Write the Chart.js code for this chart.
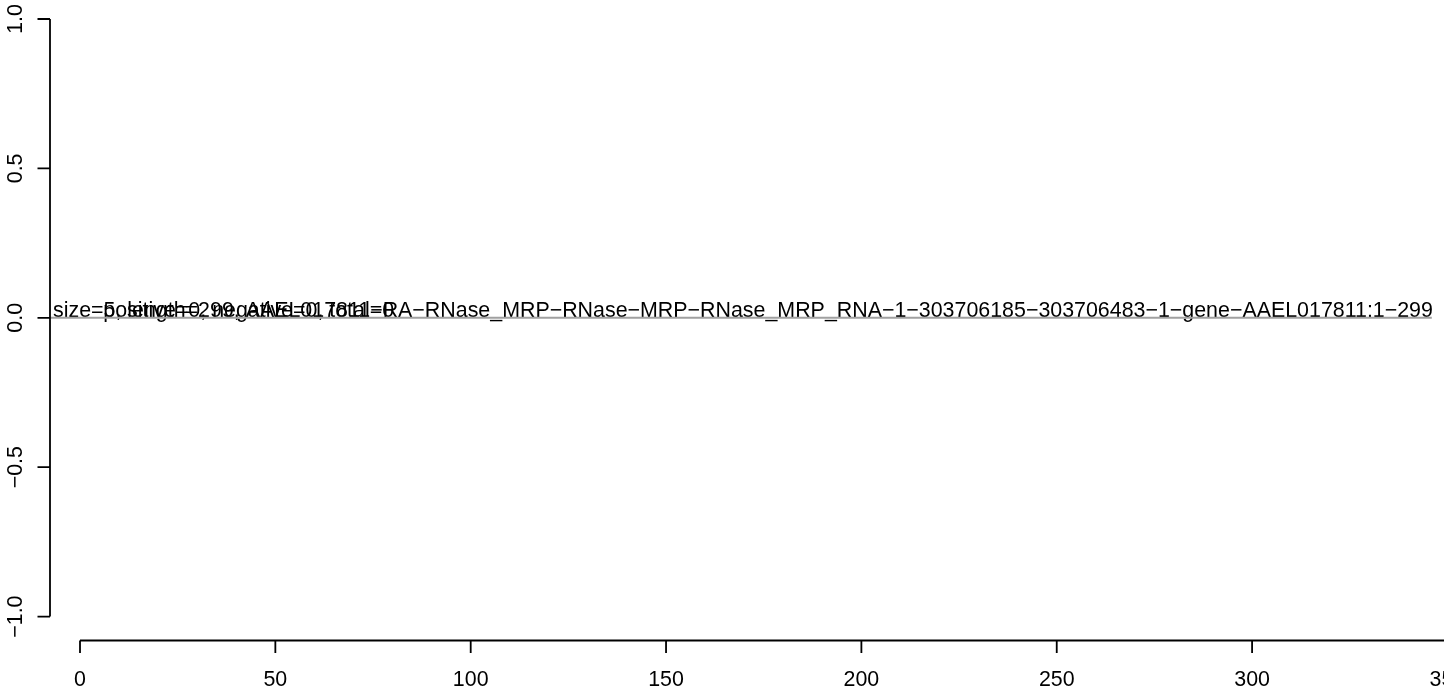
<!DOCTYPE html>
<html>
<head>
<meta charset="utf-8">
<script src="https://cdn.jsdelivr.net/npm/chart.js@4"></script>
<style>
  html, body { margin: 0; padding: 0; background: #fff; overflow: hidden; }
  #wrap { width: 1444px; height: 691px; overflow: hidden; }
</style>
</head>
<body>
<div id="wrap"><canvas id="chart" width="1500" height="691"></canvas></div>
<script>
// ticks
const xTicks = [0, 50, 100, 150, 200, 250, 300, 350];
const xTickLabels = ["0", "50", "100", "150", "200", "250", "300", "350"];
const yTicks = [-1, -0.5, 0, 0.5, 1];
const yTickLabels = ["\u22121.0", "\u22120.5", "0.0", "0.5", "1.0"];

// grey baseline
const lineX = [-7.68, 346];
const lineY = [0, 0];

// overlapping labels
const labelTexts = [
  "size=5, length=299, AAEL017811\u2212RA\u2212RNase_MRP\u2212RNase\u2212MRP\u2212RNase_MRP_RNA\u22121\u2212303706185\u2212303706483\u22121\u2212gene\u2212AAEL017811:1\u2212299",
  "positive=0, negative=0, total=0"
];
const labelX = [-6.91, 5.97];
const labelY = [0, 0];

const FONT = "21.4px 'Liberation Sans', Arial, Helvetica, sans-serif";

// R style axes + labels
const rPlot = {
  id: "rPlot",
  beforeDatasetsDraw(chart) {
    const ctx = chart.ctx;
    const xs = chart.scales.x, ys = chart.scales.y;
    ctx.save();
    ctx.font = FONT;
    ctx.fillStyle = "#000";
    ctx.textAlign = "left";
    ctx.textBaseline = "alphabetic";
    labelTexts.forEach(function (t, i) {
      ctx.fillText(t, xs.getPixelForValue(labelX[i]), ys.getPixelForValue(labelY[i]) - 0.5);
    });
    ctx.restore();
  },
  afterDraw(chart) {
    const ctx = chart.ctx;
    const xs = chart.scales.x, ys = chart.scales.y;
    const area = chart.chartArea;
    ctx.save();
    ctx.strokeStyle = "#000";
    ctx.fillStyle = "#000";
    ctx.lineWidth = 1.8;
    ctx.font = FONT;

    // y axis
    const ax = area.left;
    ctx.beginPath();
    ctx.moveTo(ax, ys.getPixelForValue(yTicks[0]));
    ctx.lineTo(ax, ys.getPixelForValue(yTicks[yTicks.length - 1]));
    yTicks.forEach(function (v) {
      const p = ys.getPixelForValue(v);
      ctx.moveTo(ax, p);
      ctx.lineTo(ax - 12.5, p);
    });
    ctx.stroke();
    ctx.textAlign = "center";
    ctx.textBaseline = "alphabetic";
    yTicks.forEach(function (v, i) {
      ctx.save();
      ctx.translate(ax - 28, ys.getPixelForValue(v));
      ctx.rotate(-Math.PI / 2);
      ctx.fillText(yTickLabels[i], 0, 0);
      ctx.restore();
    });

    // x axis
    const ay = area.bottom;
    ctx.beginPath();
    ctx.moveTo(xs.getPixelForValue(xTicks[0]), ay);
    ctx.lineTo(xs.getPixelForValue(xTicks[xTicks.length - 1]), ay);
    xTicks.forEach(function (v) {
      const p = xs.getPixelForValue(v);
      ctx.moveTo(p, ay);
      ctx.lineTo(p, ay + 12.5);
    });
    ctx.stroke();
    xTicks.forEach(function (v, i) {
      ctx.fillText(xTickLabels[i], xs.getPixelForValue(v), ay + 45.5);
    });
    ctx.restore();
  }
};

const ctx = document.getElementById("chart").getContext("2d");
const myChart = new Chart(ctx, {
  type: "scatter",
  data: {
    datasets: [
      {
        data: lineX.map(function (x, i) { return { x: x, y: lineY[i] }; }),
        showLine: true,
        borderColor: "#a0a0a0",
        borderWidth: 2,
        pointRadius: 0,
        fill: false,
      },
    ],
  },
  options: {
    responsive: false,
    animation: false,
    devicePixelRatio: 1,
    layout: { padding: { left: 50, right: 13.5, top: 19, bottom: 50.5 } },
    plugins: { legend: { display: false }, tooltip: { enabled: false } },
    scales: {
      x: { type: "linear", min: -7.68, max: 360, display: false },
      y: { type: "linear", min: -1.08, max: 1.0, display: false },
    },
  },
  plugins: [rPlot],
});
</script>
</body>
</html>
